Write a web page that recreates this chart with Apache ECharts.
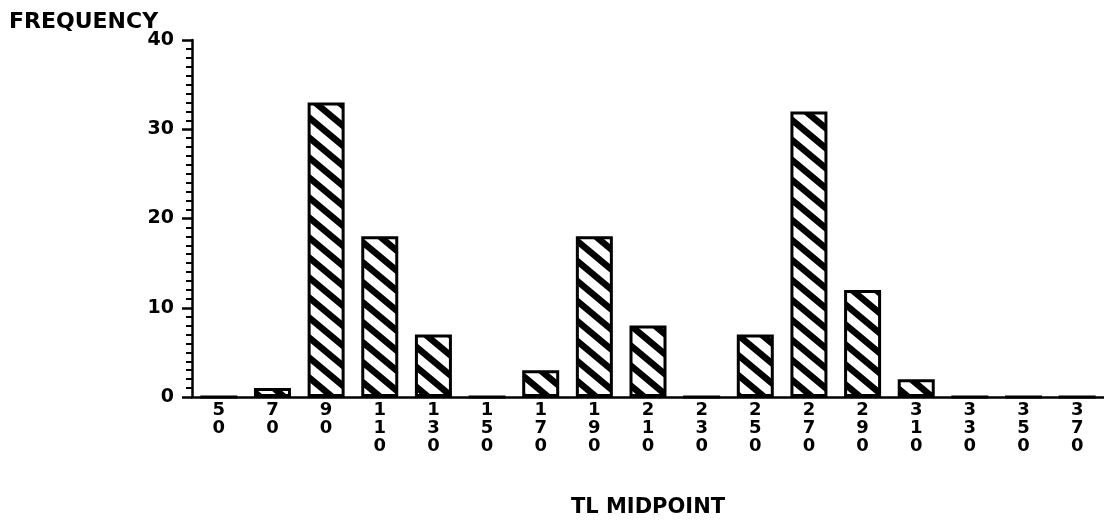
<!DOCTYPE html>
<html>
<head>
<meta charset="utf-8">
<script src="https://cdn.jsdelivr.net/npm/echarts@6/dist/echarts.min.js"></script>
<style>html,body{margin:0;padding:0;background:#fff;}#c{width:1104px;height:527px;}</style>
</head>
<body>
<div id="c"></div>
<script>
// ---- data ----
const categories = ['50','70','90','110','130','150','170','190','210','230','250','270','290','310','330','350','370'];
const frequency  = [0, 1, 33, 18, 7, 0, 3, 18, 8, 0, 7, 32, 12, 2, 0, 0, 0];
const yTicks = [0, 10, 20, 30, 40];

// ---- hatch pattern ----
function makeHatch() {
  const w = 24, h = 20;
  const c = document.createElement('canvas');
  c.width = w; c.height = h;
  const ctx = c.getContext('2d');
  ctx.fillStyle = '#fff';
  ctx.fillRect(0, 0, w, h);
  ctx.strokeStyle = '#000';
  ctx.lineWidth = 6.5;
  for (let k = -1; k <= 1; k++) {
    ctx.beginPath();
    ctx.moveTo(-w, (k - 1) * h);
    ctx.lineTo(2 * w, (k + 2) * h);
    ctx.stroke();
  }
  return c;
}

const FONT = 'DejaVu Sans';
const chart = echarts.init(document.getElementById('c'), null, {renderer: 'canvas'});
chart.setOption({
  animation: false,
  backgroundColor: '#fff',
  title: {
    text: 'FREQUENCY', left: 4, top: 6,
    textStyle: {fontFamily: FONT, fontWeight: 'bold', fontSize: 22, color: '#000'}
  },
  grid: {left: 192, right: -6, top: 40, bottom: 130, containLabel: false},
  xAxis: {
    type: 'category',
    data: categories,
    boundaryGap: true,
    name: 'TL MIDPOINT',
    nameLocation: 'middle',
    nameGap: 100,
    nameTextStyle: {fontFamily: FONT, fontWeight: 'bold', fontSize: 21, color: '#000'},
    axisLine: {show: true, lineStyle: {color: '#000', width: 2.5}},
    axisTick: {show: false},
    axisLabel: {
      interval: 0, margin: 4,
      fontFamily: FONT, fontWeight: 'bold', fontSize: 18, color: '#000', lineHeight: 18,
      formatter: v => v.split('').join('\n')
    },
    splitLine: {show: false}
  },
  yAxis: {
    type: 'value',
    min: yTicks[0], max: yTicks[yTicks.length - 1], interval: 10,
    axisLine: {show: true, lineStyle: {color: '#000', width: 2.5}},
    axisTick: {show: true, inside: false, length: 10, lineStyle: {color: '#000', width: 2.5}},
    minorTick: {show: true, splitNumber: 10, length: 6, lineStyle: {color: '#000', width: 2}},
    axisLabel: {
      margin: 18, fontFamily: FONT, fontWeight: 'bold', fontSize: 19, color: '#000'
    },
    splitLine: {show: false}
  },
  series: [{
    type: 'bar',
    data: frequency,
    barWidth: 37,
    itemStyle: {
      color: {image: makeHatch(), repeat: 'repeat'},
      borderColor: '#000',
      borderWidth: 3
    }
  }]
});
</script>
</body>
</html>
